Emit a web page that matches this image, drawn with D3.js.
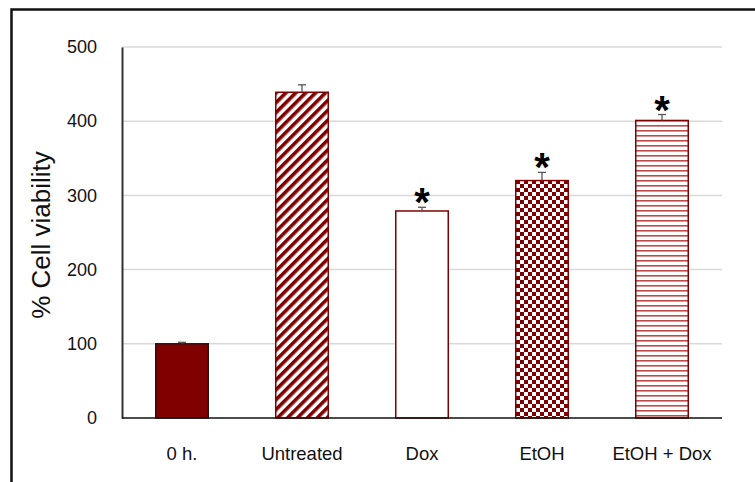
<!DOCTYPE html>
<html>
<head>
<meta charset="utf-8">
<script src="https://cdn.jsdelivr.net/npm/d3@7/dist/d3.min.js"></script>
<style>
  html, body { margin: 0; padding: 0; background: #fff; }
  svg { display: block; font-family: "Liberation Sans", Arial, sans-serif; }
</style>
</head>
<body>
<svg id="chart" width="755" height="482"></svg>
<script>
// Cell viability per treatment group (mean and error)
const categories = ["0 h.", "Untreated", "Dox", "EtOH", "EtOH + Dox"];
const viability = [100, 439, 279, 320, 401];
const errors = [2, 10, 5, 11, 8];
const significant = [false, false, true, true, true];
const fills = ["solid", "diagonal", "open", "checker", "horizontal"];
const yTicks = [0, 100, 200, 300, 400, 500];

const W = 755, H = 482;
const margin = { left: 122, right: 33, top: 47, bottom: 64 };
const maroon = "#800000";

const svg = d3.select("#chart");

// Fill patterns for the bars
const defs = svg.append("defs");

const diag = defs.append("pattern")
  .attr("id", "pat-diagonal")
  .attr("patternUnits", "userSpaceOnUse")
  .attr("width", 7).attr("height", 7)
  .attr("patternTransform", "rotate(45)");
diag.append("rect").attr("width", 7).attr("height", 7).attr("fill", "#fff");
diag.append("rect").attr("x", 0).attr("width", 3.6).attr("height", 7).attr("fill", maroon);

const checker = defs.append("pattern")
  .attr("id", "pat-checker")
  .attr("patternUnits", "userSpaceOnUse")
  .attr("width", 8).attr("height", 8);
checker.append("rect").attr("width", 8).attr("height", 8).attr("fill", "#fff");
checker.append("rect").attr("x", 0).attr("y", 0).attr("width", 4).attr("height", 4).attr("fill", maroon);
checker.append("rect").attr("x", 4).attr("y", 4).attr("width", 4).attr("height", 4).attr("fill", maroon);

const horiz = defs.append("pattern")
  .attr("id", "pat-horizontal")
  .attr("patternUnits", "userSpaceOnUse")
  .attr("width", 10).attr("height", 5);
horiz.append("rect").attr("width", 10).attr("height", 5).attr("fill", "#fff");
horiz.append("rect").attr("y", 0).attr("width", 10).attr("height", 1.6).attr("fill", "#b22a2a").attr("opacity", 0.85);

const fillFor = {
  solid: maroon,
  diagonal: "url(#pat-diagonal)",
  open: "#fff",
  checker: "url(#pat-checker)",
  horizontal: "url(#pat-horizontal)"
};
const strokeFor = {
  solid: "#2b1010",
  diagonal: maroon,
  open: maroon,
  checker: maroon,
  horizontal: maroon
};

// Outer frame (runs past the right and bottom edges)
svg.append("rect")
  .attr("x", 11.5).attr("y", 9.5)
  .attr("width", 900).attr("height", 700)
  .attr("fill", "none")
  .attr("stroke", "#111").attr("stroke-width", 2.5);

const x = d3.scaleBand()
  .domain(categories)
  .range([margin.left, W - margin.right])
  .paddingInner(0.55).paddingOuter(0.275);

const y = d3.scaleLinear()
  .domain([0, 500])
  .range([H - margin.bottom, margin.top]);

// Gridlines
svg.append("g")
  .selectAll("line")
  .data(yTicks.filter(d => d > 0))
  .join("line")
  .attr("x1", margin.left).attr("x2", W - margin.right)
  .attr("y1", d => y(d)).attr("y2", d => y(d))
  .attr("stroke", "#d9d9d9").attr("stroke-width", 1.5);

// Y axis
const yAxis = svg.append("g")
  .attr("transform", `translate(${margin.left},0)`)
  .call(d3.axisLeft(y).tickValues(yTicks).tickSize(0).tickPadding(25));
yAxis.select(".domain").attr("stroke", "#333").attr("stroke-width", 2);
yAxis.selectAll("text")
  .attr("font-size", 18)
  .attr("fill", "#111")
  .attr("font-family", "Liberation Sans, Arial, sans-serif");

// Bars
const bars = categories.map((c, i) => ({ c, v: viability[i], e: errors[i], s: significant[i], f: fills[i] }));

svg.append("g")
  .selectAll("rect")
  .data(bars)
  .join("rect")
  .attr("x", d => x(d.c) + 0.75)
  .attr("y", d => y(d.v))
  .attr("width", x.bandwidth() - 1.5)
  .attr("height", d => y(0) - y(d.v))
  .attr("fill", d => fillFor[d.f])
  .attr("stroke", d => strokeFor[d.f])
  .attr("stroke-width", 1.5);

// Error bars (upper only)
const eb = svg.append("g").attr("stroke", "#555").attr("stroke-width", 1.3);
eb.selectAll("line.stem")
  .data(bars)
  .join("line")
  .attr("class", "stem")
  .attr("x1", d => x(d.c) + x.bandwidth() / 2)
  .attr("x2", d => x(d.c) + x.bandwidth() / 2)
  .attr("y1", d => y(d.v))
  .attr("y2", d => y(d.v + d.e));
eb.selectAll("line.cap")
  .data(bars)
  .join("line")
  .attr("class", "cap")
  .attr("x1", d => x(d.c) + x.bandwidth() / 2 - 4)
  .attr("x2", d => x(d.c) + x.bandwidth() / 2 + 4)
  .attr("y1", d => y(d.v + d.e))
  .attr("y2", d => y(d.v + d.e));

// X axis baseline
svg.append("line")
  .attr("x1", margin.left).attr("x2", W - margin.right)
  .attr("y1", y(0)).attr("y2", y(0))
  .attr("stroke", "#111").attr("stroke-width", 1.5);

// Category labels
svg.append("g")
  .selectAll("text")
  .data(categories)
  .join("text")
  .attr("x", d => x(d) + x.bandwidth() / 2)
  .attr("y", 460)
  .attr("text-anchor", "middle")
  .attr("font-size", 18.5)
  .attr("fill", "#111")
  .text(d => d);

// Significance markers
svg.append("g")
  .selectAll("text")
  .data(bars.filter(d => d.s))
  .join("text")
  .attr("x", d => x(d.c) + x.bandwidth() / 2)
  .attr("y", d => y(d.v + d.e) + 9)
  .attr("text-anchor", "middle")
  .attr("font-size", 40)
  .attr("font-weight", "bold")
  .attr("fill", "#000")
  .text("*");

// Y axis title
svg.append("text")
  .attr("transform", `translate(50,235) rotate(-90)`)
  .attr("text-anchor", "middle")
  .attr("font-size", 26)
  .attr("fill", "#111")
  .text("% Cell viability");
</script>
</body>
</html>
